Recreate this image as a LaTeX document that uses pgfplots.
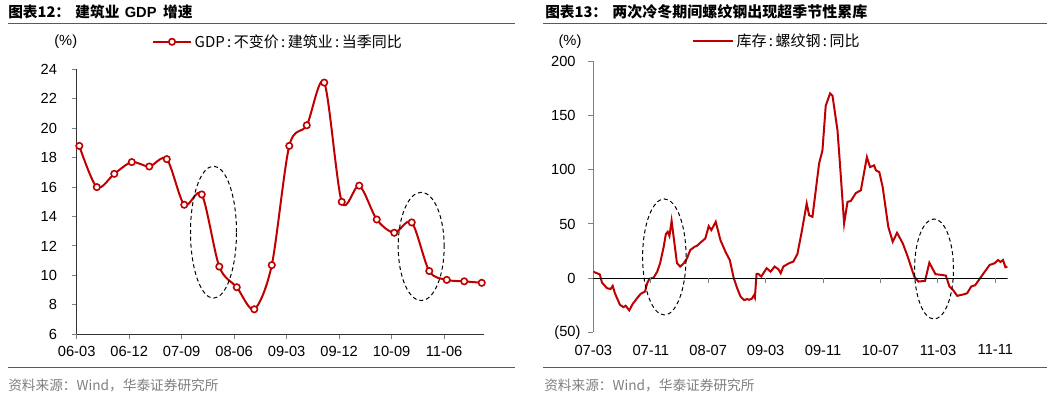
\documentclass[border=0pt]{standalone}
\usepackage{pgfplots}
\pgfplotsset{compat=1.18}
\usepackage{fontspec}
\setmainfont{Liberation Sans}
\newfontfamily\cjk{Noto Sans CJK SC}
\definecolor{myred}{HTML}{C00000}
\definecolor{rulered}{HTML}{D9261C}
\definecolor{srcgray}{HTML}{808080}
\definecolor{axgray}{HTML}{808080}
\newcommand\cc{\hspace{1.8pt}:\hspace{1.8pt}}
\newcommand\negfifty{\relax(50\rlap{)}}

\pgfplotstableread{
x y
0 18.8
1 16.0
2 16.9
3 17.7
4 17.4
5 17.9
6 14.8
7 15.5
8 10.6
9 9.2
10 7.7
11 10.7
12 18.8
13 20.2
14 23.1
15 15.0
16 16.1
17 13.8
18 12.9
19 13.6
20 10.3
21 9.7
22 9.6
23 9.5
}\gdptable

\pgfplotstableread{
m v
0.0 6.0
0.5 4.6
0.9 3.5
1.2 -4.0
1.9 -9.2
2.4 -10.0
2.7 -7.1
3.0 -13.8
3.7 -24.5
4.2 -26.7
4.5 -25.4
5.0 -29.7
5.5 -23.6
6.1 -18.4
6.6 -14.4
7.2 -12.3
7.5 -4.6
7.8 -0.6
8.4 0.5
8.9 6.1
9.3 13.8
9.8 29.0
10.1 40.7
10.36 42.8
10.6 38.9
10.9 52.9
11.3 32.1
11.65 13.8
12.1 10.7
12.6 13.8
13.05 18.4
13.5 26.0
14.1 29.0
14.4 29.7
14.9 32.7
15.6 36.7
16.07 48.0
16.44 44.4
17.05 52.0
17.7 35.2
18.4 24.4
19.0 16.8
19.56 0.0
20.03 -9.2
20.5 -16.9
21.0 -20.2
21.4 -19.3
21.7 -19.9
22.06 -19.0
22.36 -15.9
22.5 -18.0
22.73 3.9
22.98 3.9
23.39 1.5
24.13 9.2
24.69 6.1
25.25 10.7
25.77 8.3
26.1 4.6
26.46 10.7
27.25 13.8
27.86 15.3
28.42 22.3
28.98 41.3
29.72 68.9
30.05 58.1
30.52 56.6
30.98 81.1
31.44 105.6
31.91 117.9
32.37 159.2
32.98 170.5
33.31 168.4
34.01 136.2
34.38 102.5
34.93 50.5
35.4 70.4
35.87 71.3
36.57 78.6
37.26 81.1
38.1 111.7
38.54 102.5
39.1 104.1
39.36 99.5
39.83 97.9
40.3 84.1
41.08 47.4
41.7 33.6
42.3 41.9
43.1 32.1
43.79 19.8
44.7 1.5
45.27 -3.1
46.2 -2.5
46.8 14.3
47.65 3.7
48.44 3.1
49.1 2.4
49.6 -7.7
50.08 -10.7
50.68 -16.3
51.7 -14.7
52.07 -13.8
52.63 -7.7
53.19 -6.4
54.03 1.5
55.19 12.2
55.89 13.8
56.36 16.8
56.7 15.0
57.06 16.8
57.4 10.1
57.67 10.7
}\rebartable

\begin{document}
\begin{tikzpicture}
\useasboundingbox[fill=white] (0pt,0pt) rectangle (791.25pt,299.25pt);

% titles
\node[anchor=west, inner sep=0pt] at (6pt,290.25pt) {\cjk\bfseries\fontsize{11}{13}\selectfont 图表12：\hspace{4pt}建筑业\hspace{4pt}{\rmfamily\bfseries GDP}\hspace{5pt}增速};
\node[anchor=west, inner sep=0pt] at (408.75pt,290.25pt) {\cjk\bfseries\fontsize{11}{13}\selectfont 图表13：\hspace{4pt}{\fontsize{11.25}{13}\selectfont 两次冷冬期间螺纹钢出现超季节性累库}};
\draw[rulered, line width=0.75pt] (6pt,281.8pt) -- (386.25pt,281.8pt);
\draw[rulered, line width=0.75pt] (407.25pt,281.8pt) -- (785.25pt,281.8pt);
\draw[rulered, line width=0.75pt] (6pt,23.8pt) -- (386.25pt,23.8pt);
\draw[rulered, line width=0.75pt] (407.25pt,23.8pt) -- (785.25pt,23.8pt);
\node[anchor=west, inner sep=0pt, text=srcgray] at (6pt,10pt) {\cjk\fontsize{10.25}{12}\selectfont 资料来源：Wind，华泰证券研究所};
\node[anchor=west, inner sep=0pt, text=srcgray] at (408pt,10pt) {\cjk\fontsize{10.25}{12}\selectfont 资料来源：Wind，华泰证券研究所};
\node[inner sep=0pt] at (49.3pt,268pt) {\fontsize{11}{13}\selectfont (\%)};
\node[inner sep=0pt] at (427.5pt,268pt) {\fontsize{11}{13}\selectfont (\%)};

% left chart
\begin{axis}[
  at={(57.5pt,48.5pt)}, anchor=south west,
  scale only axis, width=305.5pt, height=198.75pt,
  xmin=-0.15, xmax=23.13, ymin=6, ymax=24,
  axis lines*=left,
  axis line style={line width=0.75pt, color=black!80},
  tick align=outside, major tick length=3.75pt,
  tick style={line width=0.75pt, color=axgray},
  ytick={6,8,...,24},
  xtick={-0.15,2.85,5.85,8.85,11.85,14.85,17.85,20.85},
  xticklabels={06-03,06-12,07-09,08-06,09-03,09-12,10-09,11-06},
  ticklabel style={font=\fontsize{11}{13}\selectfont},
  yticklabel style={xshift=-7.5pt},
  xticklabel style={yshift=-1.5pt},
  /pgf/number format/assume math mode=true,
  legend style={draw=none, fill=none, at={(0.185,1.104)}, anchor=west, inner sep=0pt, outer sep=0pt,
    font=\cjk\fontsize{11.25}{13}\selectfont},
  legend image code/.code={\draw[mark repeat=2,mark phase=2,#1] plot coordinates {(0pt,0pt) (14.25pt,0pt) (28.5pt,0pt)};},
]
\addplot[myred, line width=1.5pt, smooth, tension=0.5, mark=*, mark size=2.4pt,
  mark options={fill=white, draw=myred, line width=1.2pt}] table[x=x,y=y] {\gdptable};
\addlegendentry{GDP\cc 不变价\cc 建筑业\cc 当季同比}
\draw[black, line width=0.75pt, dash pattern=on 3pt off 2.2pt] (axis cs:7.67,12.94) ellipse [x radius=17.25pt, y radius=49.5pt];
\draw[black, line width=0.75pt, dash pattern=on 3pt off 2.2pt] (axis cs:19.54,11.97) ellipse [x radius=17.25pt, y radius=40.6pt];
\end{axis}

% right chart
\begin{axis}[
  at={(445pt,49.95pt)}, anchor=south west,
  scale only axis, width=310.7pt, height=203.25pt,
  xmin=0, xmax=57.7, ymin=-50, ymax=200,
  axis y line*=left, axis x line*=bottom,
  x axis line style={draw=none},
  y axis line style={line width=0.75pt, color=axgray},
  tick align=outside, major tick length=3.75pt,
  ytick style={line width=0.75pt, color=axgray},
  xtick style={draw=none},
  ytick={-50,0,50,100,150,200},
  yticklabels={\negfifty,0,50,100,150,200},
  xtick={0,8,16,24,32,40,48,56},
  xticklabels={07-03,07-11,08-07,09-03,09-11,10-07,11-03,11-11},
  ticklabel style={font=\fontsize{11}{13}\selectfont},
  yticklabel style={xshift=-6pt},
  xticklabel style={yshift=-2pt},
  legend style={draw=none, fill=none, at={(0.238,1.074)}, anchor=west, inner sep=0pt, outer sep=0pt,
    font=\cjk\fontsize{11.25}{13}\selectfont},
  legend image code/.code={\draw[#1] (0pt,0pt) -- (30pt,0pt);},
]
\addplot[myred, line width=1.5pt] table[x=m,y=v] {\rebartable};
\addlegendentry{库存\cc 螺纹钢\cc 同比}
\draw[black, line width=0.75pt] (axis cs:0,0) -- (axis cs:57.7,0);
\pgfplotsinvokeforeach{8,16,24,32,40,48,56}{\draw[axgray, line width=0.75pt] (axis cs:#1,0) -- ++(0pt,-3.75pt);}
\draw[black, line width=0.75pt, dash pattern=on 3pt off 2.2pt] (axis cs:9.89,19.6) ellipse [x radius=16.3pt, y radius=43.5pt];
\draw[black, line width=0.75pt, dash pattern=on 3pt off 2.2pt] (axis cs:47.45,8.5) ellipse [x radius=14.6pt, y radius=37.5pt];
\end{axis}
\end{tikzpicture}
\end{document}
